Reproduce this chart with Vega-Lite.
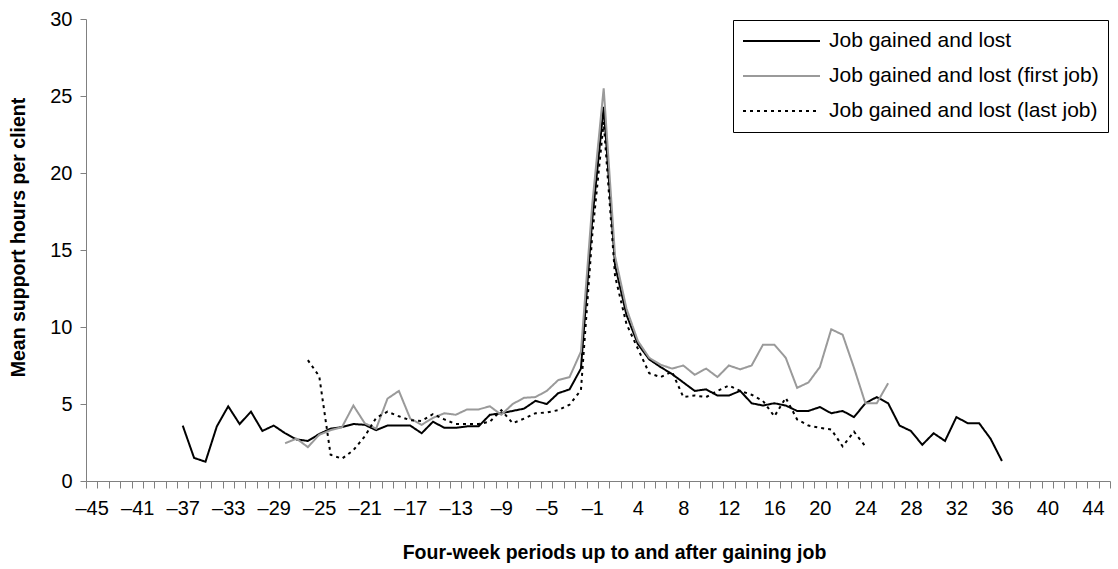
{
  "$schema": "https://vega.github.io/schema/vega-lite/v6.json",
  "width": 1024,
  "height": 462,
  "autosize": "none",
  "padding": {"left": 86, "top": 19, "right": 8, "bottom": 88},
  "config": {
    "view": {"stroke": null},
    "font": "Liberation Sans",
    "axis": {"labelFont": "Liberation Sans", "titleFont": "Liberation Sans", "labelColor": "#000000", "titleColor": "#000000", "domainColor": "#808080", "tickColor": "#808080", "grid": false, "labelFontSize": 20, "titleFontSize": 19.5, "titleFontWeight": "bold"}
  },
  "data": {
    "values": [
      {"p": -37, "s": "Job gained and lost", "v": 3.6},
      {"p": -36, "s": "Job gained and lost", "v": 1.5},
      {"p": -35, "s": "Job gained and lost", "v": 1.25},
      {"p": -34, "s": "Job gained and lost", "v": 3.55},
      {"p": -33, "s": "Job gained and lost", "v": 4.85},
      {"p": -32, "s": "Job gained and lost", "v": 3.7},
      {"p": -31, "s": "Job gained and lost", "v": 4.5},
      {"p": -30, "s": "Job gained and lost", "v": 3.25},
      {"p": -29, "s": "Job gained and lost", "v": 3.6},
      {"p": -28, "s": "Job gained and lost", "v": 3.1},
      {"p": -27, "s": "Job gained and lost", "v": 2.7},
      {"p": -26, "s": "Job gained and lost", "v": 2.6},
      {"p": -25, "s": "Job gained and lost", "v": 3.05},
      {"p": -24, "s": "Job gained and lost", "v": 3.4},
      {"p": -23, "s": "Job gained and lost", "v": 3.5},
      {"p": -22, "s": "Job gained and lost", "v": 3.7},
      {"p": -21, "s": "Job gained and lost", "v": 3.65},
      {"p": -20, "s": "Job gained and lost", "v": 3.3},
      {"p": -19, "s": "Job gained and lost", "v": 3.6},
      {"p": -18, "s": "Job gained and lost", "v": 3.6},
      {"p": -17, "s": "Job gained and lost", "v": 3.6},
      {"p": -16, "s": "Job gained and lost", "v": 3.1},
      {"p": -15, "s": "Job gained and lost", "v": 3.85},
      {"p": -14, "s": "Job gained and lost", "v": 3.45},
      {"p": -13, "s": "Job gained and lost", "v": 3.45},
      {"p": -12, "s": "Job gained and lost", "v": 3.55},
      {"p": -11, "s": "Job gained and lost", "v": 3.55},
      {"p": -10, "s": "Job gained and lost", "v": 4.3},
      {"p": -9, "s": "Job gained and lost", "v": 4.4},
      {"p": -8, "s": "Job gained and lost", "v": 4.55},
      {"p": -7, "s": "Job gained and lost", "v": 4.7},
      {"p": -6, "s": "Job gained and lost", "v": 5.2},
      {"p": -5, "s": "Job gained and lost", "v": 5.0},
      {"p": -4, "s": "Job gained and lost", "v": 5.7},
      {"p": -3, "s": "Job gained and lost", "v": 5.95},
      {"p": -2, "s": "Job gained and lost", "v": 7.3},
      {"p": -1, "s": "Job gained and lost", "v": 17.0},
      {"p": 1, "s": "Job gained and lost", "v": 24.3},
      {"p": 2, "s": "Job gained and lost", "v": 14.0},
      {"p": 3, "s": "Job gained and lost", "v": 10.8},
      {"p": 4, "s": "Job gained and lost", "v": 8.9},
      {"p": 5, "s": "Job gained and lost", "v": 7.9},
      {"p": 6, "s": "Job gained and lost", "v": 7.4},
      {"p": 7, "s": "Job gained and lost", "v": 6.95},
      {"p": 8, "s": "Job gained and lost", "v": 6.4},
      {"p": 9, "s": "Job gained and lost", "v": 5.85},
      {"p": 10, "s": "Job gained and lost", "v": 5.95},
      {"p": 11, "s": "Job gained and lost", "v": 5.55},
      {"p": 12, "s": "Job gained and lost", "v": 5.55},
      {"p": 13, "s": "Job gained and lost", "v": 5.85},
      {"p": 14, "s": "Job gained and lost", "v": 5.05},
      {"p": 15, "s": "Job gained and lost", "v": 4.9},
      {"p": 16, "s": "Job gained and lost", "v": 5.05},
      {"p": 17, "s": "Job gained and lost", "v": 4.9},
      {"p": 18, "s": "Job gained and lost", "v": 4.55},
      {"p": 19, "s": "Job gained and lost", "v": 4.55},
      {"p": 20, "s": "Job gained and lost", "v": 4.8},
      {"p": 21, "s": "Job gained and lost", "v": 4.4},
      {"p": 22, "s": "Job gained and lost", "v": 4.55},
      {"p": 23, "s": "Job gained and lost", "v": 4.15},
      {"p": 24, "s": "Job gained and lost", "v": 5.05},
      {"p": 25, "s": "Job gained and lost", "v": 5.45},
      {"p": 26, "s": "Job gained and lost", "v": 5.05},
      {"p": 27, "s": "Job gained and lost", "v": 3.6},
      {"p": 28, "s": "Job gained and lost", "v": 3.25},
      {"p": 29, "s": "Job gained and lost", "v": 2.35},
      {"p": 30, "s": "Job gained and lost", "v": 3.1},
      {"p": 31, "s": "Job gained and lost", "v": 2.6},
      {"p": 32, "s": "Job gained and lost", "v": 4.15},
      {"p": 33, "s": "Job gained and lost", "v": 3.75},
      {"p": 34, "s": "Job gained and lost", "v": 3.75},
      {"p": 35, "s": "Job gained and lost", "v": 2.75},
      {"p": 36, "s": "Job gained and lost", "v": 1.3},
      {"p": -28, "s": "Job gained and lost (first job)", "v": 2.45},
      {"p": -27, "s": "Job gained and lost (first job)", "v": 2.75},
      {"p": -26, "s": "Job gained and lost (first job)", "v": 2.2},
      {"p": -25, "s": "Job gained and lost (first job)", "v": 3.0},
      {"p": -24, "s": "Job gained and lost (first job)", "v": 3.3},
      {"p": -23, "s": "Job gained and lost (first job)", "v": 3.5},
      {"p": -22, "s": "Job gained and lost (first job)", "v": 4.9},
      {"p": -21, "s": "Job gained and lost (first job)", "v": 3.75},
      {"p": -20, "s": "Job gained and lost (first job)", "v": 3.4},
      {"p": -19, "s": "Job gained and lost (first job)", "v": 5.35},
      {"p": -18, "s": "Job gained and lost (first job)", "v": 5.85},
      {"p": -17, "s": "Job gained and lost (first job)", "v": 4.05},
      {"p": -16, "s": "Job gained and lost (first job)", "v": 3.65},
      {"p": -15, "s": "Job gained and lost (first job)", "v": 4.1},
      {"p": -14, "s": "Job gained and lost (first job)", "v": 4.4},
      {"p": -13, "s": "Job gained and lost (first job)", "v": 4.3},
      {"p": -12, "s": "Job gained and lost (first job)", "v": 4.65},
      {"p": -11, "s": "Job gained and lost (first job)", "v": 4.65},
      {"p": -10, "s": "Job gained and lost (first job)", "v": 4.85},
      {"p": -9, "s": "Job gained and lost (first job)", "v": 4.3},
      {"p": -8, "s": "Job gained and lost (first job)", "v": 5.0},
      {"p": -7, "s": "Job gained and lost (first job)", "v": 5.4},
      {"p": -6, "s": "Job gained and lost (first job)", "v": 5.45},
      {"p": -5, "s": "Job gained and lost (first job)", "v": 5.85},
      {"p": -4, "s": "Job gained and lost (first job)", "v": 6.55},
      {"p": -3, "s": "Job gained and lost (first job)", "v": 6.75},
      {"p": -2, "s": "Job gained and lost (first job)", "v": 8.4},
      {"p": -1, "s": "Job gained and lost (first job)", "v": 18.0},
      {"p": 1, "s": "Job gained and lost (first job)", "v": 25.5},
      {"p": 2, "s": "Job gained and lost (first job)", "v": 14.6},
      {"p": 3, "s": "Job gained and lost (first job)", "v": 11.2},
      {"p": 4, "s": "Job gained and lost (first job)", "v": 9.1},
      {"p": 5, "s": "Job gained and lost (first job)", "v": 8.0},
      {"p": 6, "s": "Job gained and lost (first job)", "v": 7.55},
      {"p": 7, "s": "Job gained and lost (first job)", "v": 7.3},
      {"p": 8, "s": "Job gained and lost (first job)", "v": 7.5},
      {"p": 9, "s": "Job gained and lost (first job)", "v": 6.9},
      {"p": 10, "s": "Job gained and lost (first job)", "v": 7.3},
      {"p": 11, "s": "Job gained and lost (first job)", "v": 6.75},
      {"p": 12, "s": "Job gained and lost (first job)", "v": 7.5},
      {"p": 13, "s": "Job gained and lost (first job)", "v": 7.25},
      {"p": 14, "s": "Job gained and lost (first job)", "v": 7.5},
      {"p": 15, "s": "Job gained and lost (first job)", "v": 8.85},
      {"p": 16, "s": "Job gained and lost (first job)", "v": 8.85},
      {"p": 17, "s": "Job gained and lost (first job)", "v": 8.0},
      {"p": 18, "s": "Job gained and lost (first job)", "v": 6.05},
      {"p": 19, "s": "Job gained and lost (first job)", "v": 6.4},
      {"p": 20, "s": "Job gained and lost (first job)", "v": 7.4},
      {"p": 21, "s": "Job gained and lost (first job)", "v": 9.85},
      {"p": 22, "s": "Job gained and lost (first job)", "v": 9.5},
      {"p": 23, "s": "Job gained and lost (first job)", "v": 7.35},
      {"p": 24, "s": "Job gained and lost (first job)", "v": 5.05},
      {"p": 25, "s": "Job gained and lost (first job)", "v": 5.05},
      {"p": 26, "s": "Job gained and lost (first job)", "v": 6.35},
      {"p": -26, "s": "Job gained and lost (last job)", "v": 7.85},
      {"p": -25, "s": "Job gained and lost (last job)", "v": 6.8},
      {"p": -24, "s": "Job gained and lost (last job)", "v": 1.7},
      {"p": -23, "s": "Job gained and lost (last job)", "v": 1.45},
      {"p": -22, "s": "Job gained and lost (last job)", "v": 2.0},
      {"p": -21, "s": "Job gained and lost (last job)", "v": 2.9},
      {"p": -20, "s": "Job gained and lost (last job)", "v": 4.1},
      {"p": -19, "s": "Job gained and lost (last job)", "v": 4.5},
      {"p": -18, "s": "Job gained and lost (last job)", "v": 4.2},
      {"p": -17, "s": "Job gained and lost (last job)", "v": 3.95},
      {"p": -16, "s": "Job gained and lost (last job)", "v": 3.9},
      {"p": -15, "s": "Job gained and lost (last job)", "v": 4.35},
      {"p": -14, "s": "Job gained and lost (last job)", "v": 4.0},
      {"p": -13, "s": "Job gained and lost (last job)", "v": 3.7},
      {"p": -12, "s": "Job gained and lost (last job)", "v": 3.7},
      {"p": -11, "s": "Job gained and lost (last job)", "v": 3.7},
      {"p": -10, "s": "Job gained and lost (last job)", "v": 3.85},
      {"p": -9, "s": "Job gained and lost (last job)", "v": 4.6},
      {"p": -8, "s": "Job gained and lost (last job)", "v": 3.75},
      {"p": -7, "s": "Job gained and lost (last job)", "v": 4.05},
      {"p": -6, "s": "Job gained and lost (last job)", "v": 4.4},
      {"p": -5, "s": "Job gained and lost (last job)", "v": 4.45},
      {"p": -4, "s": "Job gained and lost (last job)", "v": 4.6},
      {"p": -3, "s": "Job gained and lost (last job)", "v": 4.95},
      {"p": -2, "s": "Job gained and lost (last job)", "v": 5.9},
      {"p": -1, "s": "Job gained and lost (last job)", "v": 16.0},
      {"p": 1, "s": "Job gained and lost (last job)", "v": 23.3},
      {"p": 2, "s": "Job gained and lost (last job)", "v": 13.3},
      {"p": 3, "s": "Job gained and lost (last job)", "v": 10.2},
      {"p": 4, "s": "Job gained and lost (last job)", "v": 8.6},
      {"p": 5, "s": "Job gained and lost (last job)", "v": 7.0},
      {"p": 6, "s": "Job gained and lost (last job)", "v": 6.75},
      {"p": 7, "s": "Job gained and lost (last job)", "v": 7.1},
      {"p": 8, "s": "Job gained and lost (last job)", "v": 5.45},
      {"p": 9, "s": "Job gained and lost (last job)", "v": 5.55},
      {"p": 10, "s": "Job gained and lost (last job)", "v": 5.45},
      {"p": 11, "s": "Job gained and lost (last job)", "v": 5.85},
      {"p": 12, "s": "Job gained and lost (last job)", "v": 6.2},
      {"p": 13, "s": "Job gained and lost (last job)", "v": 5.85},
      {"p": 14, "s": "Job gained and lost (last job)", "v": 5.6},
      {"p": 15, "s": "Job gained and lost (last job)", "v": 5.2},
      {"p": 16, "s": "Job gained and lost (last job)", "v": 4.2},
      {"p": 17, "s": "Job gained and lost (last job)", "v": 5.4},
      {"p": 18, "s": "Job gained and lost (last job)", "v": 4.0},
      {"p": 19, "s": "Job gained and lost (last job)", "v": 3.6},
      {"p": 20, "s": "Job gained and lost (last job)", "v": 3.45},
      {"p": 21, "s": "Job gained and lost (last job)", "v": 3.35},
      {"p": 22, "s": "Job gained and lost (last job)", "v": 2.25},
      {"p": 23, "s": "Job gained and lost (last job)", "v": 3.2},
      {"p": 24, "s": "Job gained and lost (last job)", "v": 2.25}
    ]
  },
  "mark": {"type": "line", "strokeWidth": 2},
  "encoding": {
    "x": {
      "field": "p",
      "type": "ordinal",
      "scale": {"type": "band", "paddingInner": 0, "paddingOuter": 0, "domain": [-45,-44,-43,-42,-41,-40,-39,-38,-37,-36,-35,-34,-33,-32,-31,-30,-29,-28,-27,-26,-25,-24,-23,-22,-21,-20,-19,-18,-17,-16,-15,-14,-13,-12,-11,-10,-9,-8,-7,-6,-5,-4,-3,-2,-1,1,2,3,4,5,6,7,8,9,10,11,12,13,14,15,16,17,18,19,20,21,22,23,24,25,26,27,28,29,30,31,32,33,34,35,36,37,38,39,40,41,42,43,44,45]},
      "axis": {
        "title": "Four-week periods up to and after gaining job",
        "labelAngle": 0,
        "tickBand": "extent",
        "tickSize": 7,
        "labelPadding": 10,
        "labelOverlap": false,
        "labelExpr": "(datum.value < 0 ? (datum.value + 45) % 4 == 0 : datum.value % 4 == 0) ? (datum.value < 0 ? '–' + (-datum.value) : '' + datum.value) : ''",
        "titleX": 528,
        "titleAlign": "center",
        "titleY": 71,
        "titleBaseline": "middle"
      }
    },
    "y": {
      "field": "v",
      "type": "quantitative",
      "scale": {"domain": [0, 30], "nice": false},
      "axis": {
        "title": "Mean support hours per client",
        "values": [0, 5, 10, 15, 20, 25, 30],
        "tickSize": 6,
        "labelPadding": 8,
        "titleX": -68,
        "titleY": 218,
        "titleBaseline": "middle",
        "titleAlign": "center",
        "titleAngle": -90
      }
    },
    "color": {
      "field": "s",
      "type": "nominal",
      "scale": {"domain": ["Job gained and lost", "Job gained and lost (first job)", "Job gained and lost (last job)"], "range": ["#000000", "#9a9a9a", "#000000"]},
      "legend": {
        "title": null,
        "orient": "none",
        "legendX": 647,
        "legendY": 1,
        "symbolType": "stroke",
        "symbolSize": 5929,
        "symbolStrokeWidth": 2,
        "clipHeight": 24,
        "labelFontSize": 21,
        "labelFont": "Liberation Sans",
        "labelColor": "#000000",
        "labelLimit": 500,
        "labelOffset": 8,
        "rowPadding": 11,
        "padding": 9,
        "strokeColor": "#000000",
        "fillColor": "#ffffff"
      }
    },
    "strokeDash": {
      "field": "s",
      "type": "nominal",
      "scale": {"domain": ["Job gained and lost", "Job gained and lost (first job)", "Job gained and lost (last job)"], "range": [[1, 0], [1, 0], [3, 4]]},
      "legend": {
        "title": null,
        "orient": "none",
        "legendX": 647,
        "legendY": 1,
        "symbolType": "stroke",
        "symbolSize": 5929,
        "symbolStrokeWidth": 2,
        "clipHeight": 24,
        "labelFontSize": 21,
        "labelFont": "Liberation Sans",
        "labelColor": "#000000",
        "labelLimit": 500,
        "labelOffset": 8,
        "rowPadding": 11,
        "padding": 9,
        "strokeColor": "#000000",
        "fillColor": "#ffffff"
      }
    }
  }
}
